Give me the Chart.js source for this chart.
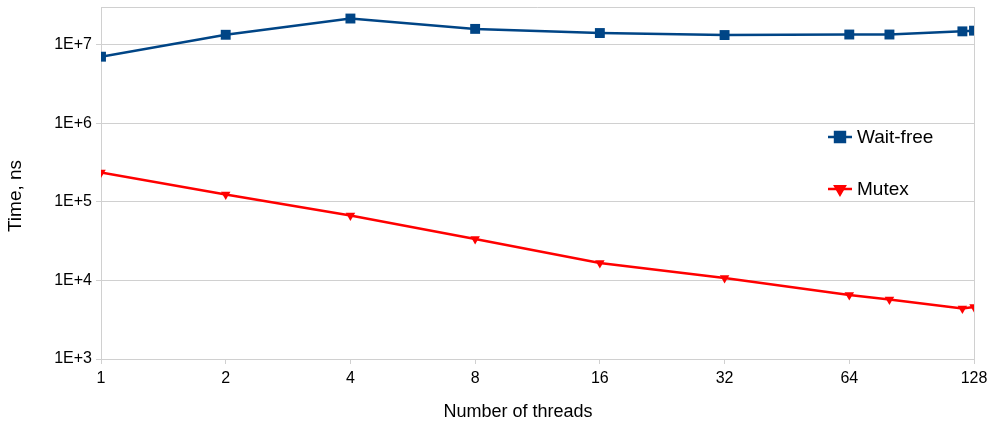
<!DOCTYPE html>
<html>
<head>
<meta charset="utf-8">
<script src="https://cdn.jsdelivr.net/npm/chart.js@4"></script>
<style>
  html, body { margin: 0; padding: 0; background: #fff; }
</style>
</head>
<body>
<canvas id="chart" width="988" height="421"></canvas>
<script>
const threads = [1, 2, 4, 8, 16, 32, 64, 80, 120, 128];
const waitFree = [7.0e6, 1.33e7, 2.14e7, 1.58e7, 1.40e7, 1.32e7, 1.34e7, 1.34e7, 1.47e7, 1.50e7];
const mutex = [2.36e5, 1.24e5, 6.7e4, 3.35e4, 1.66e4, 1.07e4, 6.5e3, 5.7e3, 4.4e3, 4.6e3];
const xTicks = [1, 2, 4, 8, 16, 32, 64, 128];
const yTicks = [1e3, 1e4, 1e5, 1e6, 1e7];

const gridColor = '#d0d0d0';
const fontFamily = '"Liberation Sans", Arial, sans-serif';
const font = { family: fontFamily, size: 16 };

// frame on top and right, axis titles and the legend inside the plot
const framePlugin = {
  id: 'frame',
  afterDraw(chart) {
    const { ctx, chartArea: a } = chart;
    ctx.save();
    ctx.strokeStyle = gridColor;
    ctx.lineWidth = 1;
    ctx.beginPath();
    ctx.moveTo(a.left, a.top + 0.5);
    ctx.lineTo(a.right + 0.5, a.top + 0.5);
    ctx.lineTo(a.right + 0.5, a.bottom);
    ctx.stroke();

    ctx.fillStyle = '#000';
    ctx.font = '18px ' + fontFamily;
    ctx.textAlign = 'center';
    ctx.textBaseline = 'middle';
    ctx.fillText('Number of threads', 518, 412);
    ctx.save();
    ctx.font = '19px ' + fontFamily;
    ctx.translate(16, 196);
    ctx.rotate(-Math.PI / 2);
    ctx.fillText('Time, ns', 0, 0);
    ctx.restore();

    const rows = [137, 189];
    ctx.textAlign = 'left';
    chart.data.datasets.forEach((ds, i) => {
      const y = rows[i];
      ctx.strokeStyle = ds.borderColor;
      ctx.lineWidth = 2.5;
      ctx.beginPath();
      ctx.moveTo(828, y);
      ctx.lineTo(852, y);
      ctx.stroke();
      Chart.helpers.drawPoint(ctx, {
        pointStyle: ds.pointStyle, radius: ds.pointRadius, rotation: ds.pointRotation || 0,
        borderWidth: 1
      }, 840, y);
      ctx.fillStyle = ds.borderColor;
      ctx.fill();
      ctx.fillStyle = '#000';
      ctx.font = '19px ' + fontFamily;
      ctx.fillText(ds.label, 857, y + 1);
    });
    ctx.restore();
  }
};

new Chart(document.getElementById('chart'), {
  type: 'line',
  data: {
    datasets: [{
      label: 'Wait-free',
      data: threads.map((t, i) => ({ x: t, y: waitFree[i] })),
      borderColor: '#004586',
      backgroundColor: '#004586',
      borderWidth: 2.5,
      pointStyle: 'rect',
      pointRadius: 7,
      pointHoverRadius: 7,
      pointBorderWidth: 0
    }, {
      label: 'Mutex',
      data: threads.map((t, i) => ({ x: t, y: mutex[i] })),
      borderColor: '#ff0000',
      backgroundColor: '#ff0000',
      borderWidth: 2.5,
      pointStyle: 'triangle',
      pointRotation: 180,
      pointRadius: 5.5,
      pointHoverRadius: 5.5,
      pointBorderWidth: 0
    }]
  },
  options: {
    responsive: false,
    animation: false,
    layout: { padding: { top: 6, right: 14, left: 0, bottom: 0 } },
    plugins: { legend: { display: false }, tooltip: { enabled: false } },
    scales: {
      x: {
        type: 'logarithmic',
        min: 1,
        max: 128,
        afterBuildTicks: (s) => { s.ticks = xTicks.map(v => ({ value: v })); },
        afterFit: (s) => { s.height = 62; s.paddingLeft = 0; s.paddingRight = 0; },
        border: { color: gridColor },
        grid: {
          color: (c) => c.tick && c.tick.value === 128 ? gridColor : 'transparent',
          tickColor: gridColor,
          tickLength: 5
        },
        ticks: { color: '#000', font, padding: 5, maxRotation: 0, autoSkip: false, callback: (v) => String(v) }
      },
      y: {
        type: 'logarithmic',
        min: 1e3,
        max: 3e7,
        afterBuildTicks: (s) => { s.ticks = yTicks.map(v => ({ value: v })); },
        afterFit: (s) => { s.width = 101; s.paddingTop = 0; s.paddingBottom = 0; },
        border: { color: gridColor },
        grid: { color: gridColor, tickColor: gridColor, tickLength: 5 },
        ticks: { color: '#000', font, padding: 4, autoSkip: false, callback: (v) => '1E+' + Math.round(Math.log10(v)) }
      }
    }
  },
  plugins: [framePlugin]
});
</script>
</body>
</html>
